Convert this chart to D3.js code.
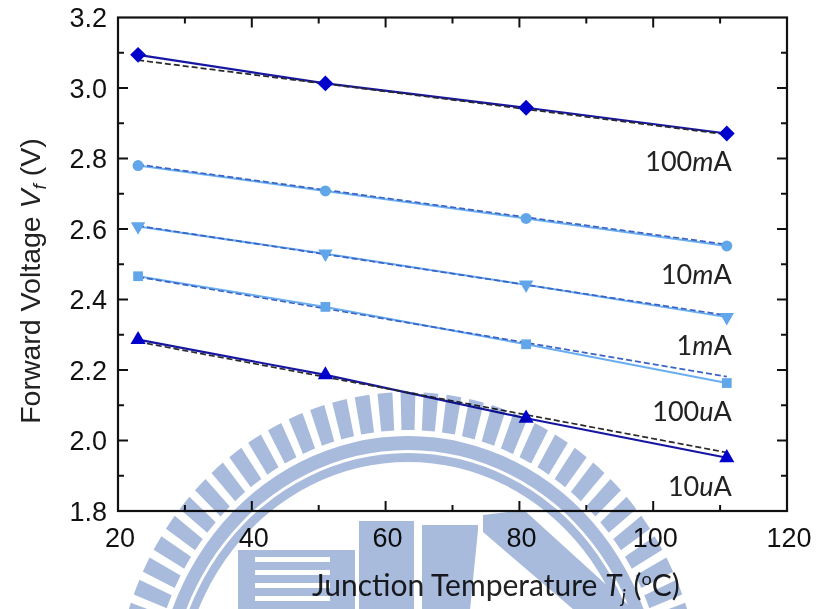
<!DOCTYPE html>
<html>
<head>
<meta charset="utf-8">
<script src="https://cdn.jsdelivr.net/npm/d3@7/dist/d3.min.js"></script>
<style>
  html, body { margin: 0; padding: 0; background: #fff; }
  svg { display: block; }
  .sans { font-family: Arial, "Liberation Sans", Helvetica, sans-serif; }
  .humanist { font-family: Lato, "Open Sans", sans-serif; }
</style>
</head>
<body>
<svg id="chart" width="817" height="609"></svg>
<script>
// Junction temperature (°C) at which Vf was measured
const temps = [23, 51, 81, 111];

// Drive-current labels
const seriesNames = ["100mA", "10mA", "1mA", "100uA", "10uA"];

// Measured forward voltage (V) per drive current
const v100mA = [3.094, 3.013, 2.944, 2.871];
const v10mA  = [2.780, 2.708, 2.630, 2.552];
const v1mA   = [2.607, 2.530, 2.442, 2.350];
const v100uA = [2.466, 2.379, 2.273, 2.163];
const v10uA  = [2.286, 2.186, 2.063, 1.951];

// Linear-fit values at the first and last temperature
const fitStart = [3.079, 2.783, 2.609, 2.464, 2.280];
const fitEnd   = [2.868, 2.556, 2.355, 2.181, 1.966];

// Axis ticks
const xMajor = [20, 40, 60, 80, 100, 120];
const xMinor = [30, 50, 70, 90, 110];
const yMajor = [1.8, 2.0, 2.2, 2.4, 2.6, 2.8, 3.0, 3.2];
const yMinor = [1.9, 2.1, 2.3, 2.5, 2.7, 2.9, 3.1];

const values = [v100mA, v10mA, v1mA, v100uA, v10uA];
const style = [
  { marker: d3.symbolDiamond2, size: 160, fill: "#0000cc", line: "#1616a2", fit: "#2a2a2a", dark: true },
  { marker: d3.symbolCircle,   size: 95,  fill: "#62a6ea", line: "#6aaef0", fit: "#3b63c6" },
  { marker: "tridown",         size: 90,  fill: "#62a6ea", line: "#6aaef0", fit: "#3b63c6" },
  { marker: d3.symbolSquare,   size: 95,  fill: "#62a6ea", line: "#6aaef0", fit: "#3b63c6" },
  { marker: d3.symbolTriangle, size: 100, fill: "#0000cc", line: "#1616a2", fit: "#2a2a2a", dark: true }
];

const W = 817, H = 609;
const margin = { left: 118, right: 30, top: 17.5, bottom: 98 };
const x = d3.scaleLinear().domain([20, 120]).range([margin.left, W - margin.right]);
const y = d3.scaleLinear().domain([1.8, 3.2]).range([H - margin.bottom, margin.top]);

const svg = d3.select("#chart");

// Series: connecting line, dashed fit, markers
const line = d3.line().x((d, i) => x(temps[i])).y(d => y(d));
const plot = svg.append("g");

values.forEach((vals, k) => {
  const s = style[k];
  plot.append("path")
    .attr("d", line(vals))
    .attr("fill", "none")
    .attr("stroke", s.line)
    .attr("stroke-width", s.dark ? 2.2 : 2);
  plot.append("line")
    .attr("x1", x(temps[0])).attr("y1", y(fitStart[k]))
    .attr("x2", x(temps[temps.length - 1])).attr("y2", y(fitEnd[k]))
    .attr("stroke", s.fit)
    .attr("stroke-width", 1.7)
    .attr("stroke-dasharray", "6,3");
});

values.forEach((vals, k) => {
  const s = style[k];
  const g = plot.append("g");
  vals.forEach((v, i) => {
    let path, rot = 0;
    if (s.marker === "tridown") {
      path = d3.symbol(d3.symbolTriangle, s.size)();
      rot = 180;
    } else {
      path = d3.symbol(s.marker, s.size)();
    }
    g.append("path")
      .attr("d", path)
      .attr("transform", `translate(${x(temps[i])},${y(v)}) rotate(${rot})`)
      .attr("fill", s.fill);
  });
});

// Current labels beside the last point of each series
seriesNames.forEach((name, k) => {
  const vals = values[k];
  const last = vals[vals.length - 1];
  const m = name.match(/^(\d+)([mu])(A)$/);
  const t = svg.append("text")
    .attr("class", "humanist")
    .attr("x", x(temps[temps.length - 1]) + 5)
    .attr("y", y(last) + 38)
    .attr("text-anchor", "end")
    .attr("font-size", 27)
    .attr("fill", "#222");
  t.append("tspan").text(m[1]);
  t.append("tspan").attr("font-style", "italic").text(m[2]);
  t.append("tspan").text(m[3]);
});

// Frame with inward ticks on all four sides
const frame = svg.append("g");
const x0 = x.range()[0], x1 = x.range()[1];
const y0 = y.range()[0], y1 = y.range()[1];
const major = 10, minor = 6;

function tickLines(list, len, vertical) {
  list.forEach(v => {
    if (vertical) {
      const px = x(v);
      frame.append("line").attr("x1", px).attr("x2", px).attr("y1", y0).attr("y2", y0 - len);
      frame.append("line").attr("x1", px).attr("x2", px).attr("y1", y1).attr("y2", y1 + len);
    } else {
      const py = y(v);
      frame.append("line").attr("y1", py).attr("y2", py).attr("x1", x0).attr("x2", x0 + len);
      frame.append("line").attr("y1", py).attr("y2", py).attr("x1", x1).attr("x2", x1 - len);
    }
  });
}
tickLines(xMajor.filter(v => v > 20 && v < 120), major, true);
tickLines(xMinor, minor, true);
tickLines(yMajor.filter(v => v > 1.8 && v < 3.2), major, false);
tickLines(yMinor, minor, false);
frame.selectAll("line").attr("stroke", "#111").attr("stroke-width", 2);

frame.append("rect")
  .attr("x", x0).attr("y", y1)
  .attr("width", x1 - x0).attr("height", y0 - y1)
  .attr("fill", "none").attr("stroke", "#111").attr("stroke-width", 2.2);

// Tick labels
svg.append("g").selectAll("text").data(xMajor).join("text")
  .attr("class", "sans")
  .attr("x", d => x(d) + 2)
  .attr("y", y0 + 36)
  .attr("text-anchor", "middle")
  .attr("font-size", 27)
  .attr("fill", "#111")
  .text(d => d);

svg.append("g").selectAll("text").data(yMajor).join("text")
  .attr("class", "sans")
  .attr("x", x0 - 11)
  .attr("y", d => y(d) + 9.5)
  .attr("text-anchor", "end")
  .attr("font-size", 27)
  .attr("fill", "#111")
  .text(d => d.toFixed(1));

// Axis titles
const yt = svg.append("text")
  .attr("class", "sans")
  .attr("transform", `translate(40,281) rotate(-90)`)
  .attr("text-anchor", "middle")
  .attr("font-size", 28.5)
  .attr("fill", "#222");
yt.append("tspan").text("Forward Voltage ");
yt.append("tspan").attr("font-style", "italic").text("V");
yt.append("tspan").attr("font-style", "italic").attr("font-size", 19).attr("dy", 6).text("f");
yt.append("tspan").attr("dy", -6).text(" (V)");

const xt = svg.append("text")
  .attr("class", "humanist")
  .attr("x", 312)
  .attr("y", 596)
  .attr("font-size", 30)
  .attr("fill", "#222");
xt.append("tspan").text("Junction Temperature ");
xt.append("tspan").attr("font-style", "italic").text("T");
xt.append("tspan").attr("font-style", "italic").attr("font-size", 19).attr("dy", 7).text("j");
xt.append("tspan").attr("dy", -7).text(" (");
xt.append("tspan").attr("font-size", 18).attr("dy", -11).text("o");
xt.append("tspan").attr("dy", 11).text("C)");

// Faint emblem printed over the lower part of the figure
const emb = svg.append("g")
  .attr("fill", "#a9bbdd")
  .style("mix-blend-mode", "multiply");
const cx = 408, cy = 708;
const rad = Math.PI / 180;
const arc = d3.arc();
const ring = emb.append("g").attr("transform", `translate(${cx},${cy}) scale(0.93,1)`);
const period = 4.5, toothW = 2.9;
for (let a = -90; a <= 90; a += period) {
  ring.append("path")
    .attr("d", arc({ innerRadius: 278, outerRadius: 316, startAngle: (a - toothW / 2) * rad, endAngle: (a + toothW / 2) * rad }));
}
ring.append("path")
  .attr("d", arc({ innerRadius: 258, outerRadius: 272, startAngle: -100 * rad, endAngle: 100 * rad }));
ring.append("path")
  .attr("d", arc({ innerRadius: 246, outerRadius: 255, startAngle: -100 * rad, endAngle: 100 * rad }));

// striped block (white bars are holes in the shape)
let blk = "M238,550 H355 V610 H238 Z";
[557, 570, 583, 596].forEach(yy => {
  blk += ` M255,${yy} H330 V${yy + 5} H255 Z`;
});
emb.append("path").attr("d", blk).attr("fill-rule", "evenodd");
// upright blocks and slanted band
emb.append("rect").attr("x", 359).attr("y", 521).attr("width", 55).attr("height", 90);
emb.append("path").attr("d", "M422,525 H478 L478,530 L470,610 H422 Z");
emb.append("path").attr("d", "M483,515 L524,510 L634,610 L574,610 L483,532 Z");
</script>
</body>
</html>
